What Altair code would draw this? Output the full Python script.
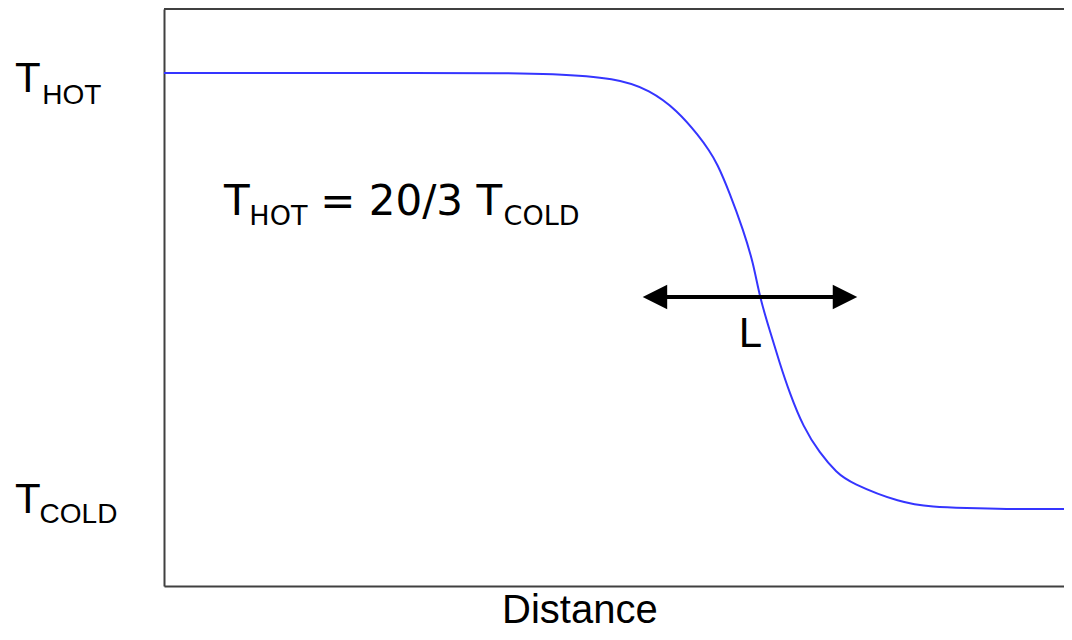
import altair as alt
import pandas as pd

# Curve (distance in arbitrary units, temperature where T_COLD = 3, T_HOT = 20)
distance = [0, 31.5, 37.0, 42.5, 49.9, 53.5, 56.5, 59.0, 60.0, 60.9, 62.3, 63.8, 64.9, 65.6,
            66.7, 67.8, 68.9, 70.4, 72.2, 74.1, 75.6, 81.1, 84.7, 88.4, 92.1, 100]
temperature = [20.0, 20.0, 20.0, 19.98, 19.81, 19.34, 18.56, 17.51, 17.0, 16.50, 15.33, 13.88, 12.60, 11.27,
               9.98, 8.70, 7.53, 6.20, 5.19, 4.41, 4.02, 3.24, 3.08, 3.04, 3.0, 3.0]

# Y-level labels (left of the frame), Liberation Sans
lab_text = ["T", "HOT", "T", "COLD"]
lab_x = [-16.4, -13.4, -16.4, -13.7]
lab_y = [19.27, 18.80, 2.85, 2.46]
lab_size = [42, 28, 42, 28]

# Equation annotation, DejaVu Sans
eq_text = ["T", "HOT", "= 20/3 T", "COLD"]
eq_x = [6.6, 9.4, 17.2, 37.4]
eq_y = [14.47, 14.08, 14.47, 14.08]
eq_size = [42, 27, 42, 27]

# Arrow marking the width L
arrow_y = 11.27
arrow_x_left = 54.07
arrow_x_right = 75.0
l_text = ["L"]
l_x = [63.3]
l_y = [9.32]

# x-axis title
title_text = ["Distance"]
title_x = [45.8]
title_y = [-1.44]

curve = pd.DataFrame({"distance": distance, "temperature": temperature})
labels = pd.DataFrame({"text": lab_text, "x": lab_x, "y": lab_y, "size": lab_size})
eq = pd.DataFrame({"text": eq_text, "x": eq_x, "y": eq_y, "size": eq_size})
shaft = pd.DataFrame({"x": [arrow_x_left], "x2": [arrow_x_right], "y": [arrow_y]})
heads = pd.DataFrame({"x": [arrow_x_left, arrow_x_right], "y": [arrow_y, arrow_y],
                      "shape": ["M-1,0L1,-1L1,1Z", "M1,0L-1,-1L-1,1Z"]})
ltab = pd.DataFrame({"text": l_text, "x": l_x, "y": l_y})
ttab = pd.DataFrame({"text": title_text, "x": title_x, "y": title_y})

xs = alt.Scale(domain=[0, 99.12], nice=False, zero=False)
ys = alt.Scale(domain=[0, 22.5], nice=False, zero=False)
frame_color = "#404040"

xaxis = alt.Axis(domain=True, domainColor=frame_color, domainWidth=2, ticks=False,
                 labels=False, grid=False, title=None)
yaxis = alt.Axis(domain=True, domainColor=frame_color, domainWidth=2, ticks=False,
                 labels=False, grid=False, title=None)

line = alt.Chart(curve).mark_line(color="#3535ff", strokeWidth=2, interpolate="basis").encode(
    x=alt.X("distance:Q", scale=xs, axis=xaxis),
    y=alt.Y("temperature:Q", scale=ys, axis=yaxis),
)

top_border = alt.Chart(curve).mark_rule(color=frame_color, strokeWidth=2).encode(
    x=alt.datum(0, scale=xs), x2=alt.datum(100), y=alt.datum(22.5, scale=ys)
)

label_marks = alt.Chart(labels).mark_text(
    font="Liberation Sans", align="left", baseline="alphabetic", color="black"
).encode(
    x=alt.X("x:Q", scale=xs), y=alt.Y("y:Q", scale=ys),
    text="text:N", size=alt.Size("size:Q", scale=None, legend=None),
)

eq_marks = alt.Chart(eq).mark_text(
    font="DejaVu Sans", align="left", baseline="alphabetic", color="black"
).encode(
    x=alt.X("x:Q", scale=xs), y=alt.Y("y:Q", scale=ys),
    text="text:N", size=alt.Size("size:Q", scale=None, legend=None),
)

shaft_mark = alt.Chart(shaft).mark_rule(color="black", strokeWidth=4).encode(
    x=alt.X("x:Q", scale=xs), x2="x2:Q", y=alt.Y("y:Q", scale=ys)
)

head_marks = alt.Chart(heads).mark_point(filled=True, color="black", opacity=1, size=600, strokeWidth=0).encode(
    x=alt.X("x:Q", scale=xs), y=alt.Y("y:Q", scale=ys),
    shape=alt.Shape("shape:N", scale=None, legend=None),
)

l_mark = alt.Chart(ltab).mark_text(
    font="Liberation Sans", fontSize=42, align="left", baseline="alphabetic", color="black"
).encode(x=alt.X("x:Q", scale=xs), y=alt.Y("y:Q", scale=ys), text="text:N")

title_mark = alt.Chart(ttab).mark_text(
    font="Liberation Sans", fontSize=40, align="center", baseline="alphabetic", color="black"
).encode(x=alt.X("x:Q", scale=xs), y=alt.Y("y:Q", scale=ys), text="text:N")

chart = alt.layer(
    line, top_border, shaft_mark, head_marks, label_marks, eq_marks, l_mark, title_mark
).properties(
    width=900, height=577,
    padding={"left": 156, "top": 1, "right": 0, "bottom": 46},
    autosize=alt.AutoSizeParams(type="none"),
).configure_view(stroke=None).configure(background="white")

chart.save("out.html", embed_options={"renderer": "svg", "actions": False})
